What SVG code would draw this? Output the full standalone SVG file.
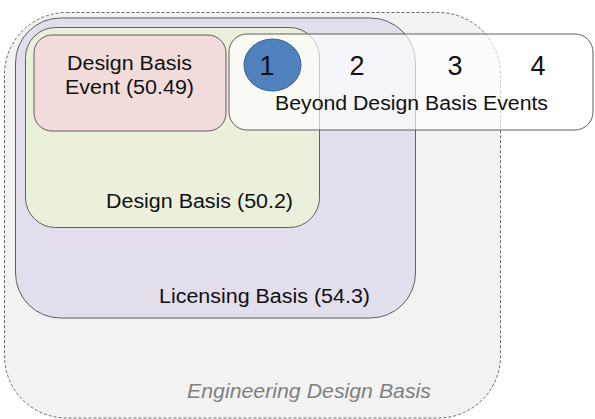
<svg xmlns="http://www.w3.org/2000/svg" width="595" height="419" viewBox="0 0 595 419">
<style>
.box{stroke:#5f5f5f;stroke-width:1}
.t{font-family:"Liberation Sans",Arial,sans-serif;font-size:20px;fill:#111}
.d{font-family:"Liberation Sans",Arial,sans-serif;font-size:27px;fill:#111;text-anchor:middle}
</style>
<rect width="595" height="419" fill="#ffffff"/>
<g id="engineering-design-basis">
<rect x="4.5" y="12.5" width="496" height="405.5" rx="62" ry="62" fill="#f2f2f2" stroke="#6a6a6a" stroke-width="1" stroke-dasharray="3,2"/>
<text x="187" y="398" font-family="'Liberation Sans',Arial,sans-serif" font-size="19.5" font-style="italic" fill="#808080" textLength="244" lengthAdjust="spacingAndGlyphs">Engineering Design Basis</text>
</g>
<g id="licensing-basis">
<rect class="box" x="15.5" y="18" width="400" height="300" rx="45" ry="45" fill="#e2deec"/>
<text class="t" x="159" y="303" textLength="211" lengthAdjust="spacingAndGlyphs">Licensing Basis (54.3)</text>
</g>
<g id="design-basis">
<rect class="box" x="25.5" y="27.5" width="294" height="200" rx="30" ry="30" fill="#ebf0dd"/>
<text class="t" x="106" y="208" textLength="187" lengthAdjust="spacingAndGlyphs">Design Basis (50.2)</text>
</g>
<g id="design-basis-event">
<rect class="box" x="34" y="35" width="192" height="96" rx="18" ry="18" fill="#f2dcdb"/>
<text class="t" x="67" y="70" textLength="125" lengthAdjust="spacingAndGlyphs">Design Basis</text>
<text class="t" x="65" y="94" textLength="129" lengthAdjust="spacingAndGlyphs">Event (50.49)</text>
</g>
<g id="beyond-design-basis-events">
<rect class="box" x="229" y="34" width="364" height="96" rx="18" ry="18" fill="#ffffff" fill-opacity="0.65"/>
<ellipse cx="272.5" cy="65" rx="28.5" ry="26" fill="#4f81bd" stroke="#3a6396" stroke-width="1"/>
<text class="d" x="267" y="75">1</text>
<text class="d" x="357" y="75">2</text>
<text class="d" x="455" y="75">3</text>
<text class="d" x="538" y="75">4</text>
<text class="t" x="275" y="110" textLength="273" lengthAdjust="spacingAndGlyphs">Beyond Design Basis Events</text>
</g>
</svg>
